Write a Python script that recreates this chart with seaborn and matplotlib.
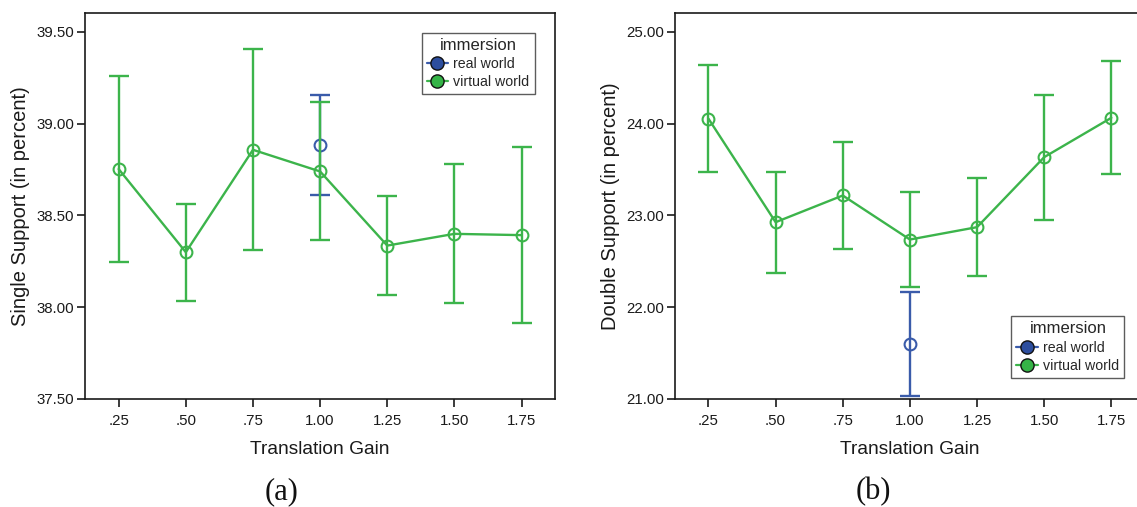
import numpy as np
import pandas as pd
import seaborn as sns
import matplotlib
matplotlib.use("Agg")
import matplotlib.pyplot as plt
from matplotlib.lines import Line2D

# Translation gain levels (categorical x axis)
gain_labels = [".25", ".50", ".75", "1.00", "1.25", "1.50", "1.75"]
real_gain = "1.00"

# Single support (in percent): means and 95% CI bounds
single_virtual_mean = [38.753, 38.300, 38.858, 38.740, 38.336, 38.400, 38.393]
single_virtual_low = [38.245, 38.036, 38.313, 38.369, 38.069, 38.025, 37.913]
single_virtual_high = [39.262, 38.564, 39.407, 39.116, 38.605, 38.778, 38.875]
single_real_mean = [38.885]
single_real_low = [38.613]
single_real_high = [39.158]

# Double support (in percent): means and 95% CI bounds
double_virtual_mean = [24.055, 22.927, 23.218, 22.738, 22.873, 23.636, 24.065]
double_virtual_low = [23.469, 22.378, 22.640, 22.222, 22.342, 22.956, 23.447]
double_virtual_high = [24.640, 23.476, 23.804, 23.258, 23.404, 24.316, 24.687]
double_real_mean = [21.604]
double_real_low = [21.033]
double_real_high = [22.167]

GREEN = "#3CB44B"
BLUE = "#3A5BAA"
GREEN_FILL = "#35B447"
BLUE_FILL = "#2D4E9E"
SPINE = "#1a1a1a"

sns.set_style("ticks")
plt.rcParams["font.family"] = ["Liberation Sans", "DejaVu Sans"]

fig = plt.figure(figsize=(11.37, 5.07), dpi=100)
W, H = 1137, 507


def add_axes_px(left, top, width, height):
    return fig.add_axes([left / W, 1 - (top + height) / H, width / W, height / H])


ax1 = add_axes_px(85.1, 13, 470, 386)
ax2 = add_axes_px(674.9, 13, 470, 386)


def build_frame(means, lows, highs, real_mean, real_low, real_high):
    pos = {g: i for i, g in enumerate(gain_labels)}
    virt = pd.DataFrame({
        "x": [pos[g] for g in gain_labels],
        "mean": means, "low": lows, "high": highs,
        "immersion": "virtual world",
    })
    real = pd.DataFrame({
        "x": [pos[real_gain]],
        "mean": real_mean, "low": real_low, "high": real_high,
        "immersion": "real world",
    })
    return real, virt


def draw_panel(ax, real, virt, ylim, yticks, ylabel, legend_loc, legend_anchor):
    for df, col, z in ((real, BLUE, 2), (virt, GREEN, 3)):
        ax.errorbar(df["x"], df["mean"],
                    yerr=[df["mean"] - df["low"], df["high"] - df["mean"]],
                    fmt="none", ecolor=col, elinewidth=1.7, capsize=7.5,
                    capthick=1.7, zorder=z)
        sns.lineplot(data=df, x="x", y="mean", ax=ax, color=col,
                     linewidth=1.7, marker="o", markersize=8.5,
                     markerfacecolor="none", markeredgecolor=col,
                     markeredgewidth=1.5, zorder=z + 0.5, legend=False)

    ax.set_xlim(-0.5, 6.5)
    ax.set_ylim(*ylim)
    ax.set_xticks(range(len(gain_labels)))
    ax.set_xticklabels(gain_labels)
    ax.set_yticks(yticks)
    ax.set_yticklabels([f"{v:.2f}" for v in yticks])
    ax.tick_params(axis="both", direction="out", length=6, width=1.2,
                   color=SPINE, labelsize=10.8, labelcolor="#1a1a1a")
    ax.tick_params(axis="x", pad=4.5)
    ax.tick_params(axis="y", pad=2)
    for sp in ax.spines.values():
        sp.set_visible(True)
        sp.set_color(SPINE)
        sp.set_linewidth(1.2)

    ax.set_xlabel("Translation Gain", fontsize=13.8, color="#1a1a1a")
    ax.xaxis.set_label_coords(0.5, -0.13)
    ax.xaxis.label.set_verticalalignment("center")
    ax.set_ylabel(ylabel, fontsize=14.5, color="#1a1a1a")
    ax.yaxis.set_label_coords(-0.137, 0.5)
    ax.yaxis.label.set_verticalalignment("center")

    handles = [
        Line2D([0], [0], color=BLUE, lw=1.6, marker="o", markersize=9.5,
               markerfacecolor=BLUE_FILL, markeredgecolor="#111111",
               markeredgewidth=1.0),
        Line2D([0], [0], color=GREEN, lw=1.6, marker="o", markersize=9.5,
               markerfacecolor=GREEN_FILL, markeredgecolor="#111111",
               markeredgewidth=1.0),
    ]
    leg = ax.legend(handles, ["real world", "virtual world"], title="immersion",
                    loc=legend_loc, bbox_to_anchor=legend_anchor,
                    fontsize=10.2, title_fontsize=12, frameon=True,
                    fancybox=False, handlelength=1.5, handletextpad=0.4,
                    borderpad=0.35, labelspacing=0.3, borderaxespad=0.0)
    leg.get_frame().set_edgecolor("#333333")
    leg.get_frame().set_linewidth(1.0)


real1, virt1 = build_frame(single_virtual_mean, single_virtual_low,
                           single_virtual_high, single_real_mean,
                           single_real_low, single_real_high)
real2, virt2 = build_frame(double_virtual_mean, double_virtual_low,
                           double_virtual_high, double_real_mean,
                           double_real_low, double_real_high)

draw_panel(ax1, real1, virt1, (37.5, 39.6035),
           [37.5, 38.0, 38.5, 39.0, 39.5], "Single Support (in percent)",
           "upper left", (0.716, 0.949))
draw_panel(ax2, real2, virt2, (21.0, 25.207),
           [21.0, 22.0, 23.0, 24.0, 25.0], "Double Support (in percent)",
           "lower left", (0.716, 0.055))

fig.text(282 / W, 1 - 492 / H, "(a)", ha="center", va="center",
         fontsize=22, family=["Liberation Serif", "DejaVu Serif"], color="#111111")
fig.text(873.4 / W, 1 - 492 / H, "(b)", ha="center", va="center",
         fontsize=22, family=["Liberation Serif", "DejaVu Serif"], color="#111111")

fig.savefig("out.png", dpi=100)
